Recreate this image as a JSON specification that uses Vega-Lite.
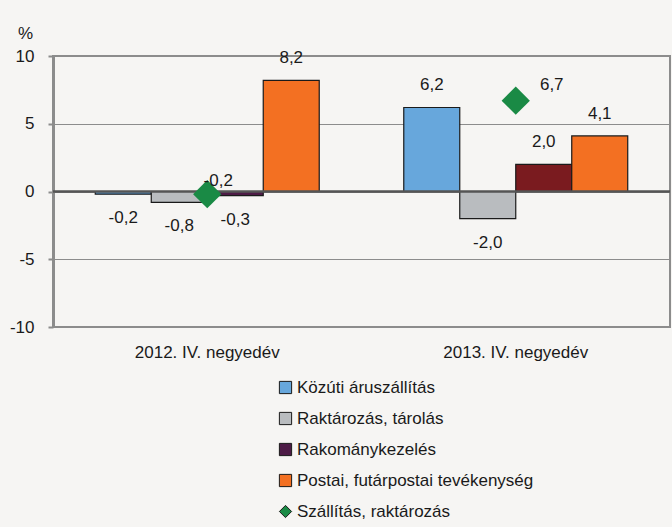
{
  "$schema": "https://vega.github.io/schema/vega-lite/v6.json",
  "autosize": "none",
  "width": 617,
  "height": 271,
  "padding": {"left": 53, "top": 56, "right": 2, "bottom": 200},
  "background": "#f6f5f3",
  "config": {
    "locale": {"number": {"decimal": ",", "thousands": " ", "grouping": [3], "currency": ["", ""], "minus": "-"}},
    "font": "Liberation Sans, Arial, sans-serif",
    "view": {"stroke": "#8c8c8c", "strokeWidth": 2, "fill": "#f6f5f3"},
    "axis": {"labelFont": "Liberation Sans, Arial, sans-serif", "labelColor": "#1a1a1a", "titleFont": "Liberation Sans, Arial, sans-serif"},
    "legend": {"labelFont": "Liberation Sans, Arial, sans-serif"}
  },
  "datasets": {
    "agazatok": [
      {"ev": "2012. IV. negyedév", "sorozat": "Közúti áruszállítás", "ertek": -0.2},
      {"ev": "2012. IV. negyedév", "sorozat": "Raktározás, tárolás", "ertek": -0.8},
      {"ev": "2012. IV. negyedév", "sorozat": "Rakománykezelés", "ertek": -0.3},
      {"ev": "2012. IV. negyedév", "sorozat": "Postai, futárpostai tevékenység", "ertek": 8.2},
      {"ev": "2013. IV. negyedév", "sorozat": "Közúti áruszállítás", "ertek": 6.2},
      {"ev": "2013. IV. negyedév", "sorozat": "Raktározás, tárolás", "ertek": -2.0},
      {"ev": "2013. IV. negyedév", "sorozat": "Rakománykezelés", "ertek": 2.0},
      {"ev": "2013. IV. negyedév", "sorozat": "Postai, futárpostai tevékenység", "ertek": 4.1}
    ],
    "osszesen": [
      {"ev": "2012. IV. negyedév", "sorozat": "Szállítás, raktározás", "ertek": -0.2},
      {"ev": "2013. IV. negyedév", "sorozat": "Szállítás, raktározás", "ertek": 6.7}
    ]
  },
  "encoding": {
    "x": {
      "field": "ev", "type": "nominal",
      "scale": {"paddingInner": 0.274, "paddingOuter": 0.137},
      "axis": {"title": null, "labelAngle": 0, "domain": false, "ticks": false, "labelFontSize": 17, "labelPadding": 17, "labelBaseline": "top"}
    },
    "y": {
      "field": "ertek", "type": "quantitative",
      "scale": {"domain": [-10, 10], "nice": false, "zero": false},
      "axis": {
        "values": [-10, -5, 0, 5, 10], "title": "%", "titleAngle": 0, "titleX": -28, "titleY": -23,
        "titleAlign": "center", "titleBaseline": "middle", "titleFontSize": 17, "titleFontWeight": "normal", "titleColor": "#1a1a1a",
        "labelFontSize": 17, "labelPadding": 14, "tickSize": 5, "tickColor": "#8c8c8c", "tickWidth": 2,
        "domainColor": "#8c8c8c", "domainWidth": 3, "grid": true, "gridColor": "#8c8c8c", "gridWidth": 1.2
      }
    }
  },
  "layer": [
    {
      "data": {"name": "agazatok"},
      "mark": {"type": "bar", "stroke": "#1a1a1a", "strokeWidth": 1.2},
      "encoding": {
        "xOffset": {"field": "sorozat", "type": "nominal", "scale": {"domain": ["Közúti áruszállítás", "Raktározás, tárolás", "Rakománykezelés", "Postai, futárpostai tevékenység"], "paddingInner": 0, "paddingOuter": 0}},
        "color": {
          "condition": {"test": "datum.ev === '2013. IV. negyedév' && datum.sorozat === 'Rakománykezelés'", "value": "#7a1b1f"},
          "field": "sorozat", "type": "nominal",
          "scale": {"domain": ["Közúti áruszállítás", "Raktározás, tárolás", "Rakománykezelés", "Postai, futárpostai tevékenység", "Szállítás, raktározás"], "range": ["#67a7dc", "#b9bcbf", "#4d1b46", "#f37022", "#1a8a45"]},
          "legend": {
            "title": null, "orient": "none", "legendX": 224, "legendY": 323, "direction": "vertical",
            "labelFontSize": 17, "labelColor": "#1a1a1a", "symbolSize": 150, "rowPadding": 13, "labelOffset": 3, "labelLimit": 400,
            "symbolStrokeWidth": 1,
            "encode": {"symbols": {"update": {"stroke": {"signal": "datum.value === 'Szállítás, raktározás' ? 'transparent' : '#1a1a1a'"}, "strokeWidth": {"value": 1.2}}}}
          }
        }
      }
    },
    {
      "data": {"values": [{"nulla": 0}]},
      "mark": {"type": "rule", "stroke": "#555555", "strokeWidth": 2.5},
      "encoding": {"y": {"field": "nulla", "type": "quantitative"}, "x": null}
    },
    {
      "data": {"name": "agazatok"},
      "transform": [{"filter": "datum.ertek >= 0"}],
      "mark": {"type": "text", "baseline": "alphabetic", "dy": -17, "fontSize": 17, "fill": "#1a1a1a"},
      "encoding": {
        "xOffset": {"field": "sorozat", "type": "nominal", "scale": {"domain": ["Közúti áruszállítás", "Raktározás, tárolás", "Rakománykezelés", "Postai, futárpostai tevékenység"], "paddingInner": 0, "paddingOuter": 0}},
        "text": {"field": "ertek", "type": "quantitative", "format": ".1f"}
      }
    },
    {
      "data": {"name": "agazatok"},
      "transform": [{"filter": "datum.ertek < 0"}],
      "mark": {"type": "text", "baseline": "top", "dy": 16, "fontSize": 17, "fill": "#1a1a1a"},
      "encoding": {
        "xOffset": {"field": "sorozat", "type": "nominal", "scale": {"domain": ["Közúti áruszállítás", "Raktározás, tárolás", "Rakománykezelés", "Postai, futárpostai tevékenység"], "paddingInner": 0, "paddingOuter": 0}},
        "text": {"field": "ertek", "type": "quantitative", "format": ".1f"}
      }
    },
    {
      "data": {"name": "osszesen"},
      "mark": {"type": "point", "filled": true, "opacity": 1, "size": 800},
      "encoding": {
        "color": {
          "field": "sorozat", "type": "nominal",
          "scale": {"domain": ["Közúti áruszállítás", "Raktározás, tárolás", "Rakománykezelés", "Postai, futárpostai tevékenység", "Szállítás, raktározás"], "range": ["#67a7dc", "#b9bcbf", "#4d1b46", "#f37022", "#1a8a45"]},
          "legend": {
            "title": null, "orient": "none", "legendX": 224, "legendY": 323, "direction": "vertical",
            "labelFontSize": 17, "labelColor": "#1a1a1a", "symbolSize": 150, "rowPadding": 13, "labelOffset": 3, "labelLimit": 400,
            "symbolStrokeWidth": 1,
            "encode": {"symbols": {"update": {"stroke": {"signal": "datum.value === 'Szállítás, raktározás' ? 'transparent' : '#1a1a1a'"}, "strokeWidth": {"value": 1.2}}}}
          }
        },
        "shape": {
          "field": "sorozat", "type": "nominal",
          "scale": {"domain": ["Közúti áruszállítás", "Raktározás, tárolás", "Rakománykezelés", "Postai, futárpostai tevékenység", "Szállítás, raktározás"], "range": ["square", "square", "square", "square", "diamond"]},
          "legend": {
            "title": null, "orient": "none", "legendX": 224, "legendY": 323, "direction": "vertical",
            "labelFontSize": 17, "labelColor": "#1a1a1a", "symbolSize": 150, "rowPadding": 13, "labelOffset": 3, "labelLimit": 400,
            "symbolStrokeWidth": 1,
            "encode": {"symbols": {"update": {"stroke": {"signal": "datum.value === 'Szállítás, raktározás' ? 'transparent' : '#1a1a1a'"}, "strokeWidth": {"value": 1.2}}}}
          }
        }
      }
    },
    {
      "data": {"name": "osszesen"},
      "transform": [{"filter": "datum.ertek < 0"}],
      "mark": {"type": "text", "baseline": "alphabetic", "dx": 11, "dy": -8, "fontSize": 17, "fill": "#1a1a1a"},
      "encoding": {"text": {"field": "ertek", "type": "quantitative", "format": ".1f"}}
    },
    {
      "data": {"name": "osszesen"},
      "transform": [{"filter": "datum.ertek >= 0"}],
      "mark": {"type": "text", "baseline": "alphabetic", "dx": 36, "dy": -11, "fontSize": 17, "fill": "#1a1a1a"},
      "encoding": {"text": {"field": "ertek", "type": "quantitative", "format": ".1f"}}
    }
  ]
}
